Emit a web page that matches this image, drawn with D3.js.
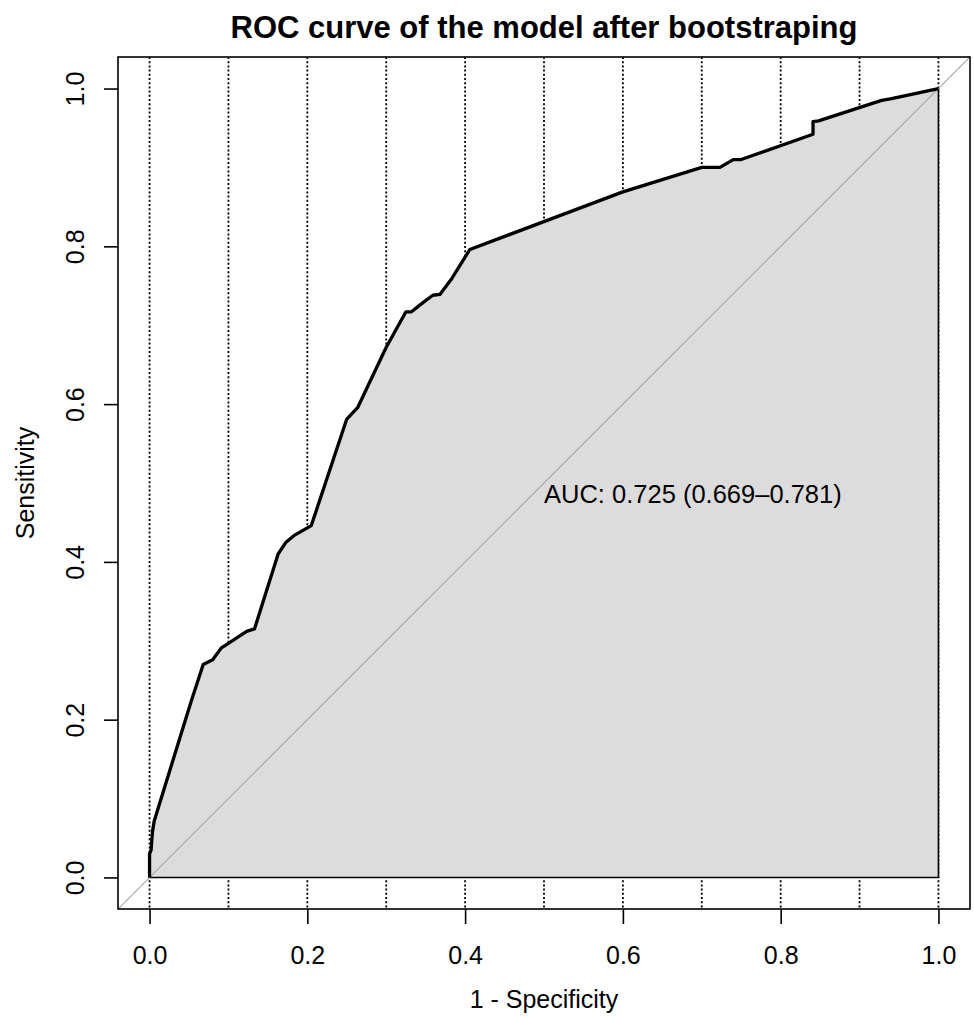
<!DOCTYPE html>
<html>
<head>
<meta charset="utf-8">
<script src="https://cdn.jsdelivr.net/npm/d3@7"></script>
<style>
  body { margin: 0; background: #fff; }
  svg text { font-family: "Liberation Sans", Arial, sans-serif; fill: #000; }
</style>
</head>
<body>
<div id="chart"></div>
<script>
// ROC points (1 - specificity, sensitivity)
var fpr = [0, 0, 0.002, 0.003, 0.004, 0.006, 0.053, 0.068, 0.080, 0.091, 0.099, 0.123, 0.133,
  0.163, 0.173, 0.184, 0.205, 0.250, 0.264, 0.300, 0.325, 0.332, 0.347, 0.359, 0.368, 0.383,
  0.406, 0.499, 0.600, 0.700, 0.723, 0.740, 0.750, 0.841, 0.841, 0.848, 0.928, 0.939, 1.0];
var tpr = [0, 0.030, 0.035, 0.050, 0.060, 0.072, 0.224, 0.270, 0.276, 0.291, 0.296, 0.312, 0.315,
  0.410, 0.425, 0.434, 0.446, 0.581, 0.596, 0.672, 0.717, 0.717, 0.729, 0.738, 0.739, 0.759,
  0.796, 0.831, 0.869, 0.900, 0.900, 0.910, 0.910, 0.942, 0.958, 0.959, 0.985, 0.987, 1.0];
var ticks = [0, 0.2, 0.4, 0.6, 0.8, 1.0];
var gridX = [0, 0.1, 0.2, 0.3, 0.4, 0.5, 0.6, 0.7, 0.8, 0.9, 1.0];
var title = "ROC curve of the model after bootstraping";
var aucLabel = "AUC: 0.725 (0.669\u20130.781)";

(function () {
  var w = 974, h = 1017;
  var pl = 118, pr = 970, pt = 57, pb = 909;

  var svg = d3.select("#chart").append("svg")
    .attr("width", w).attr("height", h);

  var x = d3.scaleLinear().domain([-0.04, 1.04]).range([pl, pr]);
  var y = d3.scaleLinear().domain([-0.04, 1.04]).range([pb, pt]);

  svg.append("defs").append("clipPath").attr("id", "plotclip")
    .append("rect").attr("x", pl).attr("y", pt)
    .attr("width", pr - pl).attr("height", pb - pt);

  var plot = svg.append("g").attr("clip-path", "url(#plotclip)");

  // dotted vertical grid
  plot.selectAll("line.grid")
    .data(gridX)
    .enter()
    .append("line")
    .attr("class", "grid")
    .attr("x1", function(d) { return x(d); })
    .attr("x2", function(d) { return x(d); })
    .attr("y1", pt)
    .attr("y2", pb)
    .attr("stroke", "#000")
    .attr("stroke-width", 1.8)
    .attr("stroke-dasharray", "2,2.2");

  var pts = fpr.map(function(d, i) { return [d, tpr[i]]; });
  var line = d3.line()
    .x(function(d) { return x(d[0]); })
    .y(function(d) { return y(d[1]); });

  // AUC polygon
  var poly = pts.concat([[1, 0], [0, 0]]);
  plot.append("path")
    .attr("d", line(poly) + "Z")
    .attr("fill", "#dcdcdc")
    .attr("stroke", "#000")
    .attr("stroke-width", 1.6);

  // identity line
  plot.append("line")
    .attr("x1", x(-0.04)).attr("y1", y(-0.04))
    .attr("x2", x(1.04)).attr("y2", y(1.04))
    .attr("stroke", "#a8a8a8")
    .attr("stroke-width", 1.2);

  // ROC curve
  plot.append("path")
    .attr("d", line(pts))
    .attr("fill", "none")
    .attr("stroke", "#000")
    .attr("stroke-width", 3.3)
    .attr("stroke-linejoin", "round");

  // box
  svg.append("rect")
    .attr("x", pl).attr("y", pt)
    .attr("width", pr - pl).attr("height", pb - pt)
    .attr("fill", "none")
    .attr("stroke", "#000")
    .attr("stroke-width", 1.6);

  // axes
  var xAxis = svg.append("g")
    .attr("transform", "translate(0," + pb + ")")
    .call(d3.axisBottom(x).tickValues(ticks).tickSize(15).tickPadding(22)
      .tickFormat(d3.format(".1f")));
  xAxis.select(".domain").remove();
  xAxis.selectAll("line").attr("stroke", "#000").attr("stroke-width", 1.6);
  xAxis.selectAll("text").attr("font-size", 25).attr("font-family", null);

  var yAxis = svg.append("g")
    .attr("transform", "translate(" + pl + ",0)")
    .call(d3.axisLeft(y).tickValues(ticks).tickSize(14)
      .tickFormat(d3.format(".1f")));
  yAxis.select(".domain").remove();
  yAxis.selectAll("line").attr("stroke", "#000").attr("stroke-width", 1.6);
  yAxis.selectAll("text")
    .attr("font-size", 25)
    .attr("font-family", null)
    .attr("x", null).attr("dy", null)
    .attr("text-anchor", "middle")
    .attr("transform", "translate(-34,0) rotate(-90)");

  // labels
  svg.append("text")
    .attr("x", (pl + pr) / 2).attr("y", 38)
    .attr("text-anchor", "middle")
    .attr("font-size", 31)
    .attr("font-weight", "bold")
    .text(title);

  svg.append("text")
    .attr("x", x(0.5)).attr("y", 1008)
    .attr("text-anchor", "middle")
    .attr("font-size", 25)
    .text("1 - Specificity");

  svg.append("text")
    .attr("transform", "translate(34," + y(0.5) + ") rotate(-90)")
    .attr("text-anchor", "middle")
    .attr("font-size", 25)
    .text("Sensitivity");

  svg.append("text")
    .attr("x", x(0.5)).attr("y", 503)
    .attr("font-size", 25.5)
    .text(aucLabel);
})();
</script>
</body>
</html>
